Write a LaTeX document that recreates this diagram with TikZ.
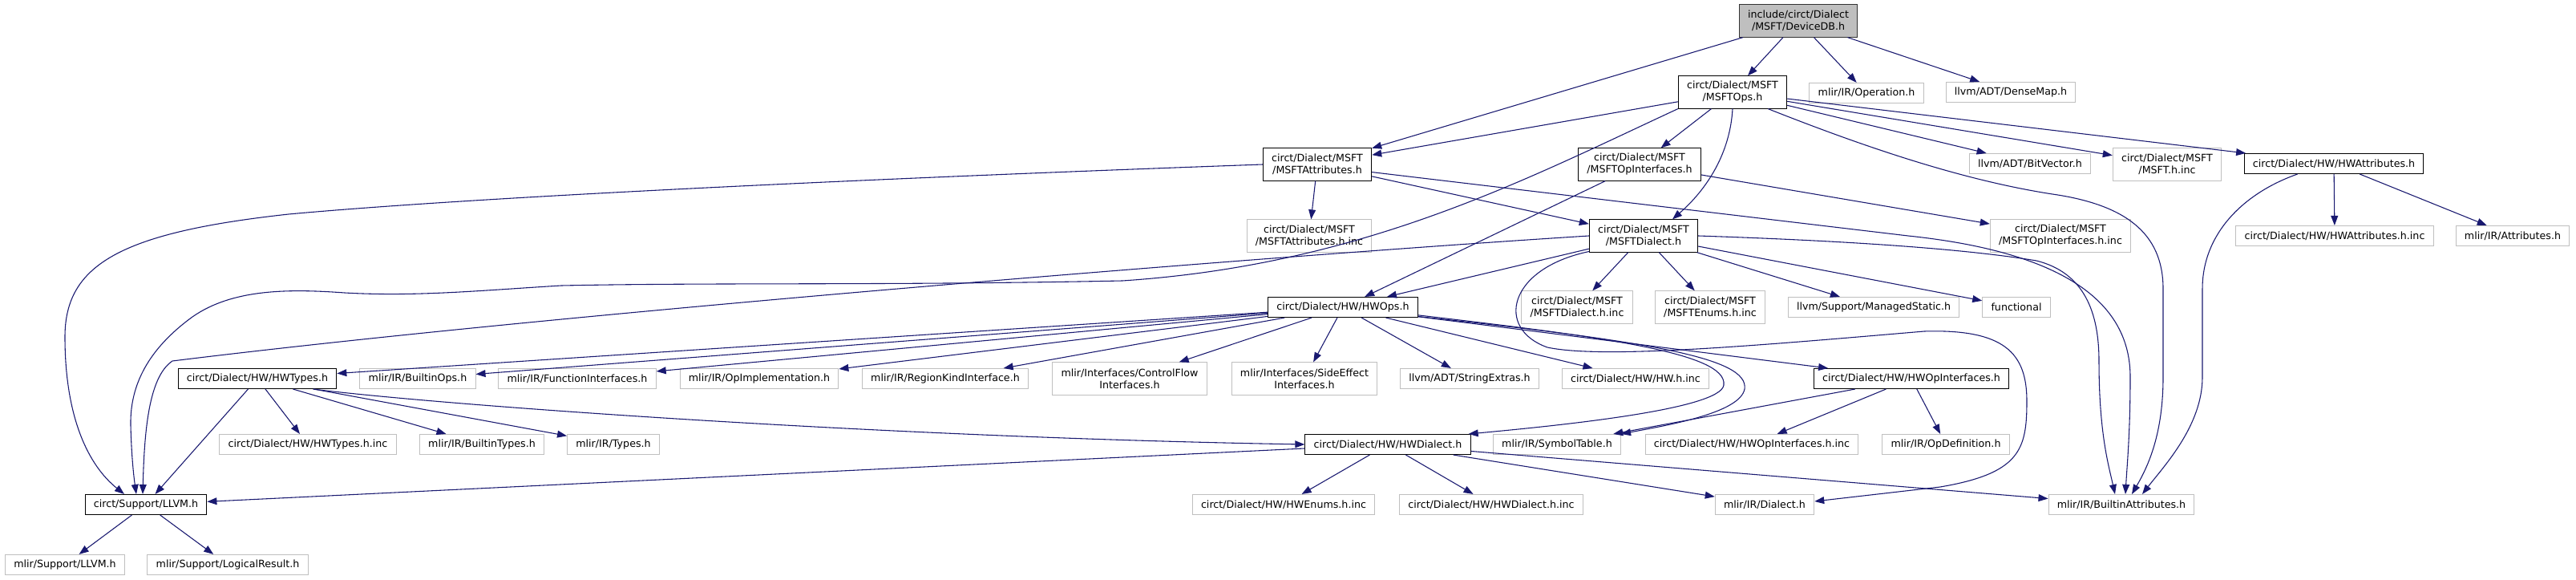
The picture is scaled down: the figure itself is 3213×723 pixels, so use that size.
\documentclass[tikz,border=0pt]{standalone}
\usepackage{fontspec}
\newfontfamily\dotfont{DejaVu Sans}
\usepackage{xcolor}
\usepackage{tikz}
\usetikzlibrary{arrows.meta, calc}
\definecolor{edgeblue}{HTML}{191970}
\definecolor{extgray}{HTML}{BFBFBF}

\begin{document}
\begin{tikzpicture}[
  x=0.79pt, y=-0.79pt,
  file/.style={rectangle, draw=black, line width=0.8pt, inner xsep=8.5pt, inner ysep=1pt, minimum height=19.8pt, align=center, font=\dotfont\fontsize{10}{11.85}\selectfont},
  ext/.style={file, draw=extgray},
  tall/.style={minimum height=31.8pt},
  root/.style={file, fill=extgray, draw=black!80},
  arrow/.style={draw=edgeblue, line width=0.85pt, -{Triangle[length=9.5pt,width=7pt]}}
]
  \useasboundingbox (0,0) rectangle (3213,723);

  \node[root, tall] (root) at (2243,26) {include/circt/Dialect\\/MSFT/DeviceDB.h};

  \node[file, tall] (ops) at (2161,115) {circt/Dialect/MSFT\\/MSFTOps.h};
  \node[ext] (operation) at (2328,116) {mlir/IR/Operation.h};
  \node[ext] (densemap) at (2508,115) {llvm/ADT/DenseMap.h};

  \node[file, tall] (attrs) at (1643,205) {circt/Dialect/MSFT\\/MSFTAttributes.h};
  \node[file, tall] (opif) at (2045,205) {circt/Dialect/MSFT\\/MSFTOpInterfaces.h};
  \node[ext] (bitvec) at (2532,204) {llvm/ADT/BitVector.h};
  \node[ext, tall] (msftinc) at (2703,205) {circt/Dialect/MSFT\\/MSFT.h.inc};
  \node[file] (hwattrs) at (2911,204) {circt/Dialect/HW/HWAttributes.h};

  \node[ext, tall] (attrsinc) at (1633,294) {circt/Dialect/MSFT\\/MSFTAttributes.h.inc};
  \node[file, tall] (dialect) at (2050,294) {circt/Dialect/MSFT\\/MSFTDialect.h};
  \node[ext, tall] (opifinc) at (2570,294) {circt/Dialect/MSFT\\/MSFTOpInterfaces.h.inc};
  \node[ext] (hwattrsinc) at (2912,294) {circt/Dialect/HW/HWAttributes.h.inc};
  \node[ext] (mattrs) at (3134,294) {mlir/IR/Attributes.h};

  \node[file] (hwops) at (1675,383) {circt/Dialect/HW/HWOps.h};
  \node[ext, tall] (dialectinc) at (1967,383) {circt/Dialect/MSFT\\/MSFTDialect.h.inc};
  \node[ext, tall] (enumsinc) at (2133,383) {circt/Dialect/MSFT\\/MSFTEnums.h.inc};
  \node[ext] (managed) at (2337,383) {llvm/Support/ManagedStatic.h};
  \node[ext] (functional) at (2515,383) {functional};

  \node[file] (hwtypes) at (321,472) {circt/Dialect/HW/HWTypes.h};
  \node[ext] (builtinops) at (521,472) {mlir/IR/BuiltinOps.h};
  \node[ext] (funcif) at (720,472) {mlir/IR/FunctionInterfaces.h};
  \node[ext] (opimpl) at (947,472) {mlir/IR/OpImplementation.h};
  \node[ext] (regionkind) at (1179,472) {mlir/IR/RegionKindInterface.h};
  \node[ext, tall] (cflow) at (1409,472) {mlir/Interfaces/ControlFlow\\Interfaces.h};
  \node[ext, tall] (sideeffect) at (1627,472) {mlir/Interfaces/SideEffect\\Interfaces.h};
  \node[ext] (strext) at (1833,472) {llvm/ADT/StringExtras.h};
  \node[ext] (hwinc) at (2040,472) {circt/Dialect/HW/HW.h.inc};
  \node[file] (hwopif) at (2384,472) {circt/Dialect/HW/HWOpInterfaces.h};

  \node[ext] (hwtypesinc) at (384,554) {circt/Dialect/HW/HWTypes.h.inc};
  \node[ext] (builtintypes) at (601,554) {mlir/IR/BuiltinTypes.h};
  \node[ext] (types) at (765,554) {mlir/IR/Types.h};
  \node[file] (hwdialect) at (1731,554) {circt/Dialect/HW/HWDialect.h};
  \node[ext] (symtab) at (1942,554) {mlir/IR/SymbolTable.h};
  \node[ext] (hwopifinc) at (2185,554) {circt/Dialect/HW/HWOpInterfaces.h.inc};
  \node[ext] (opdef) at (2427,554) {mlir/IR/OpDefinition.h};

  \node[file] (llvmh) at (182,629) {circt/Support/LLVM.h};
  \node[ext] (hwenumsinc) at (1601,629) {circt/Dialect/HW/HWEnums.h.inc};
  \node[ext] (hwdialectinc) at (1860,629) {circt/Dialect/HW/HWDialect.h.inc};
  \node[ext] (dialecth) at (2201,629) {mlir/IR/Dialect.h};
  \node[ext] (builtinattrs) at (2646,629) {mlir/IR/BuiltinAttributes.h};

  \node[ext] (mlirllvm) at (81,704) {mlir/Support/LLVM.h};
  \node[ext] (logical) at (284,704) {mlir/Support/LogicalResult.h};

  \draw[arrow] (root) -- (attrs);
  \draw[arrow] (root) -- (ops);
  \draw[arrow] (root) -- (operation);
  \draw[arrow] (root) -- (densemap);

  \draw[arrow] (ops) -- (attrs);
  \draw[arrow] (ops) -- (opif);
  \draw[arrow] (ops.south) .. controls (2158,190) and (2130,235) .. ($(dialect.north)+(36,0)$);
  \draw[arrow] (ops) -- (bitvec);
  \draw[arrow] (ops) -- (msftinc);
  \draw[arrow] (ops) -- (hwattrs);
  \draw[arrow] (ops.south west) .. controls (1900,225) and (1700,330) .. (1400,350)
    .. controls (1100,356) and (900,352) .. (700,356)
    .. controls (600,362) and (520,370) .. (430,365)
    .. controls (360,360) and (290,360) .. (240,395)
    .. controls (185,435) and (162,480) .. (163,530)
    .. controls (164,570) and (167,595) .. ($(llvmh.north)+(-12,0)$);
  \draw[arrow] (ops.-25) .. controls (2330,185) and (2450,225) .. (2560,242)
    .. controls (2650,255) and (2698,290) .. (2698,360) -- (2698,470)
    .. controls (2698,540) and (2680,580) .. ($(builtinattrs.north)+(13,0)$);

  \draw[arrow] (attrs) -- (attrsinc);
  \draw[arrow] (attrs) -- (dialect);
  \draw[arrow] (attrs.west) .. controls (1100,222) and (600,245) .. (360,267)
    .. controls (150,290) and (81,330) .. (81,420)
    .. controls (81,520) and (110,580) .. ($(llvmh.north)+(-27,0)$);
  \draw[arrow] (attrs.-8) -- (2380,294) .. controls (2580,315) and (2657,380) .. (2657,470)
    .. controls (2657,540) and (2653,580) .. ($(builtinattrs.north)+(5,0)$);

  \draw[arrow] (opif) -- (hwops);
  \draw[arrow] (opif) -- (opifinc);

  \draw[arrow] (hwattrs) -- (hwattrsinc);
  \draw[arrow] (hwattrs) -- (mattrs);
  \draw[arrow] ($(hwattrs.south west)+(67,0)$) .. controls (2800,240) and (2747,290) .. (2747,360) -- (2747,470)
    .. controls (2747,530) and (2700,580) .. ($(builtinattrs.north)+(26,0)$);

  \draw[arrow] (dialect) -- (hwops);
  \draw[arrow] (dialect) -- (dialectinc);
  \draw[arrow] (dialect) -- (enumsinc);
  \draw[arrow] (dialect) -- (managed);
  \draw[arrow] (dialect) -- (functional);
  \draw[arrow] (dialect.west) .. controls (1600,318) and (700,390) .. (215,450)
    .. controls (185,470) and (180,540) .. ($(llvmh.north)+(-4,0)$);
  \draw[arrow] (dialect.east) .. controls (2300,300) and (2450,310) .. (2540,325)
    .. controls (2600,340) and (2618,390) .. (2618,450)
    .. controls (2618,540) and (2630,580) .. ($(builtinattrs.north)+(-8,0)$);
  \draw[arrow] (dialect.196) .. controls (1880,335) and (1865,410) .. (1930,433)
    .. controls (2000,448) and (2200,430) .. (2400,413)
    .. controls (2500,410) and (2528,440) .. (2528,500)
    .. controls (2528,560) and (2520,590) .. (2420,607) -- ($(dialecth.east)+(0,-4)$);

  \draw[arrow] (hwops) -- (hwtypes);
  \draw[arrow] (hwops) -- (builtinops);
  \draw[arrow] (hwops) -- (funcif);
  \draw[arrow] (hwops) -- (opimpl);
  \draw[arrow] (hwops) -- (regionkind);
  \draw[arrow] (hwops) -- (cflow);
  \draw[arrow] (hwops) -- (sideeffect);
  \draw[arrow] (hwops) -- (strext);
  \draw[arrow] (hwops) -- (hwinc);
  \draw[arrow] (hwops) -- (hwopif);
  \draw[arrow] (hwops.-6) .. controls (2000,420) and (2155,440) .. (2150,480)
    .. controls (2146,510) and (1950,530) .. ($(hwdialect.north east)+(-3,0)$);
  \draw[arrow] (hwops.-7) .. controls (2050,425) and (2182,445) .. (2176,485)
    .. controls (2170,515) and (2080,530) .. (symtab.north east);

  \draw[arrow] (hwtypes) -- (llvmh);
  \draw[arrow] (hwtypes) -- (hwtypesinc);
  \draw[arrow] (hwtypes) -- (builtintypes);
  \draw[arrow] (hwtypes) -- (types);
  \draw[arrow] ($(hwtypes.south east)+(-30,0)$) .. controls (550,505) and (1100,545) .. (hwdialect.west);

  \draw[arrow] (hwopif) -- (symtab);
  \draw[arrow] (hwopif) -- (hwopifinc);
  \draw[arrow] (hwopif) -- (opdef);

  \draw[arrow] (hwdialect) -- (llvmh);
  \draw[arrow] (hwdialect) -- (hwenumsinc);
  \draw[arrow] (hwdialect) -- (hwdialectinc);
  \draw[arrow] (hwdialect) -- (dialecth);
  \draw[arrow] (hwdialect) -- (builtinattrs);

  \draw[arrow] (llvmh) -- (mlirllvm);
  \draw[arrow] (llvmh) -- (logical);
\end{tikzpicture}
\end{document}
